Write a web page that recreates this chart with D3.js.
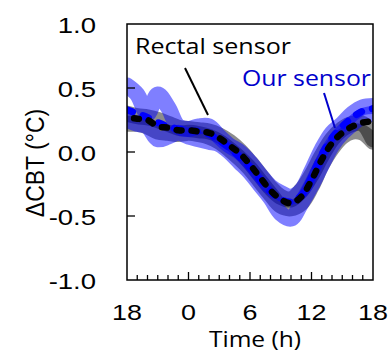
<!DOCTYPE html>
<html>
<head>
<meta charset="utf-8">
<script src="https://cdn.jsdelivr.net/npm/d3@7"></script>
<style>
  body { margin: 0; background: #fff; }
  svg { display: block; }
</style>
</head>
<body>
<script>
// hours run from 18:00 (day before) to 18:00, i.e. 18..42
const hours = d3.range(18, 43);
const xTickLabels = ["18", "0", "6", "12", "18"];
const yTicks = [-1.0, -0.5, 0.0, 0.5, 1.0];
const yTickLabels = ["-1.0", "-0.5", "0.0", "0.5", "1.0"];

// mean curves
const rectalMean = [0.27, 0.26, 0.25, 0.20, 0.19, 0.17, 0.17, 0.16, 0.15, 0.11, 0.05, -0.01, -0.10,
                    -0.20, -0.30, -0.37, -0.40, -0.35, -0.22, -0.06, 0.07, 0.15, 0.20, 0.23, 0.24];
const ourMean    = [0.33, 0.30, 0.27, 0.23, 0.20, 0.18, 0.17, 0.16, 0.14, 0.09, 0.03, -0.04, -0.12,
                    -0.22, -0.31, -0.37, -0.39, -0.34, -0.20, -0.02, 0.11, 0.20, 0.27, 0.32, 0.34];

// individual recordings (the translucent blobs)
const ourRawA    = [0.52, 0.45, 0.30, 0.45, 0.35, 0.20, 0.18, 0.20, 0.20, 0.12, 0.05, 0.00, -0.08,
                    -0.18, -0.27, -0.32, -0.35, -0.30, -0.15, 0.02, 0.15, 0.22, 0.30, 0.35, 0.36];
const ourRawB    = [0.25, 0.22, 0.20, 0.10, 0.12, 0.15, 0.12, 0.10, 0.08, 0.06, 0.00, -0.08, -0.16,
                    -0.26, -0.36, -0.48, -0.52, -0.40, -0.26, -0.10, 0.05, 0.15, 0.22, 0.28, 0.30];
const rectalRawA = [0.30, 0.28, 0.27, 0.25, 0.22, 0.19, 0.18, 0.17, 0.16, 0.13, 0.08, 0.01, -0.08,
                    -0.18, -0.28, -0.35, -0.37, -0.30, -0.18, -0.03, 0.10, 0.18, 0.22, 0.22, 0.10];
const rectalRawB = [0.22, 0.22, 0.20, 0.16, 0.15, 0.14, 0.15, 0.14, 0.12, 0.08, 0.02, -0.05, -0.13,
                    -0.23, -0.33, -0.42, -0.44, -0.40, -0.27, -0.10, 0.03, 0.12, 0.16, 0.15, 0.08];

const width = 390, height = 361;
const margin = {left: 127, right: 17, top: 24, bottom: 81};
const stretch = 1.25;   // tick labels in the figure are drawn wide

const svg = d3.select("body").append("svg")
    .attr("width", width)
    .attr("height", height);

const x = d3.scaleLinear().domain([18, 42]).range([margin.left, width - margin.right]);
const y = d3.scaleLinear().domain([-1, 1]).range([height - margin.bottom, margin.top]);

svg.append("clipPath").attr("id", "plot")
  .append("rect")
    .attr("x", x(18)).attr("y", y(1))
    .attr("width", x(42) - x(18)).attr("height", y(-1) - y(1));

const line = d3.line()
    .x((d, i) => x(hours[i]))
    .y(d => y(d))
    .curve(d3.curveCatmullRom);

const plot = svg.append("g").attr("clip-path", "url(#plot)");

// translucent individual traces
[[rectalRawA, "#000", 0.45], [rectalRawB, "#000", 0.45],
 [ourRawA, "#0000ff", 0.5], [ourRawB, "#0000ff", 0.5]].forEach(([vals, col, op]) => {
    plot.append("path")
        .attr("d", line(vals))
        .attr("fill", "none")
        .attr("stroke", col)
        .attr("stroke-opacity", op)
        .attr("stroke-width", 16)
        .attr("stroke-linecap", "round")
        .attr("stroke-linejoin", "round");
});

// mean curves, dashed
plot.append("path")
    .attr("d", line(ourMean))
    .attr("fill", "none")
    .attr("stroke", "#0000ff")
    .attr("stroke-width", 7)
    .attr("stroke-linecap", "round")
    .attr("stroke-dasharray", "6,11");

plot.append("path")
    .attr("d", line(rectalMean))
    .attr("fill", "none")
    .attr("stroke", "#000")
    .attr("stroke-width", 6.5)
    .attr("stroke-linecap", "round")
    .attr("stroke-dasharray", "5,10")
    .attr("stroke-dashoffset", 8);

// frame
svg.append("rect")
    .attr("x", x(18)).attr("y", y(1))
    .attr("width", x(42) - x(18)).attr("height", y(-1) - y(1))
    .attr("fill", "none")
    .attr("stroke", "#000")
    .attr("stroke-width", 1.5);

// x ticks (every hour, longer every 6 h), pointing inward
svg.append("g").selectAll("line")
  .data(d3.range(19, 42))
  .join("line")
    .attr("x1", d => x(d)).attr("x2", d => x(d))
    .attr("y1", y(-1))
    .attr("y2", d => y(-1) - (d % 6 === 0 ? 8 : 5))
    .attr("stroke", "#000")
    .attr("stroke-width", 1.3);

svg.append("g").selectAll("text")
  .data(d3.range(18, 43, 6))
  .join("text")
    .attr("transform", d => `translate(${x(d)},320) scale(${stretch},1)`)
    .attr("text-anchor", "middle")
    .style("font-family", "Liberation Sans, Arial, sans-serif")
    .style("font-size", "21.5px")
    .text((d, i) => xTickLabels[i]);

// y ticks
svg.append("g").selectAll("line")
  .data(yTicks.slice(1, -1))
  .join("line")
    .attr("x1", x(18)).attr("x2", x(18) + 8)
    .attr("y1", d => y(d)).attr("y2", d => y(d))
    .attr("stroke", "#000")
    .attr("stroke-width", 1.3);

svg.append("g").selectAll("text")
  .data(yTicks)
  .join("text")
    .attr("transform", d => `translate(96,${y(d) + 8.5}) scale(${stretch},1)`)
    .attr("text-anchor", "end")
    .style("font-family", "Liberation Sans, Arial, sans-serif")
    .style("font-size", "22px")
    .text((d, i) => yTickLabels[i]);

// axis titles
svg.append("text")
    .attr("transform", "translate(255,347) scale(1.17,1)")
    .attr("text-anchor", "middle")
    .style("font-family", "Open Sans, sans-serif")
    .style("font-size", "21px")
    .text("Time (h)");

svg.append("text")
    .attr("transform", "translate(44,163) rotate(-90) scale(1,1.1)")
    .attr("text-anchor", "middle")
    .style("font-family", "Liberation Sans, Arial, sans-serif")
    .style("font-size", "23px")
    .text("ΔCBT (°C)");

// annotations
svg.append("text")
    .attr("x", 135).attr("y", 54)
    .attr("textLength", 156)
    .attr("lengthAdjust", "spacingAndGlyphs")
    .style("font-family", "Open Sans, sans-serif")
    .style("font-size", "22px")
    .attr("fill", "#000")
    .text("Rectal sensor");

svg.append("line")
    .attr("x1", 185).attr("y1", 68)
    .attr("x2", 208).attr("y2", 115)
    .attr("stroke", "#000").attr("stroke-width", 2);

svg.append("text")
    .attr("x", 242).attr("y", 86)
    .attr("textLength", 129)
    .attr("lengthAdjust", "spacingAndGlyphs")
    .style("font-family", "Open Sans, sans-serif")
    .style("font-size", "22px")
    .attr("fill", "#0000cc")
    .text("Our sensor");

svg.append("line")
    .attr("x1", 324).attr("y1", 93)
    .attr("x2", 335).attr("y2", 128)
    .attr("stroke", "#0000cc").attr("stroke-width", 2);
</script>
</body>
</html>
